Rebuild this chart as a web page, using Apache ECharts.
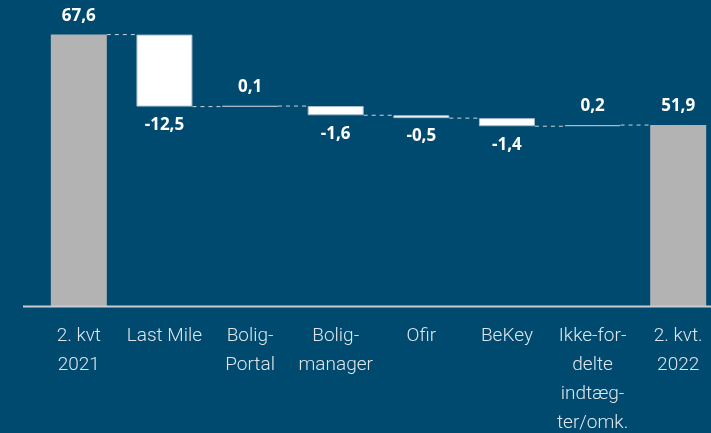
<!DOCTYPE html>
<html>
<head>
<meta charset="utf-8">
<script src="https://cdn.jsdelivr.net/npm/echarts@6/dist/echarts.min.js"></script>
<style>
  html, body { margin: 0; padding: 0; background: #014a6f; }
  #chart { width: 711px; height: 433px; }
</style>
</head>
<body>
<div id="chart"></div>
<script>
// kategorier og værdier (mio. kr.)
const categories = ['2. kvt\n2021', 'Last Mile', 'Bolig-\nPortal', 'Bolig-\nmanager', 'Ofir', 'BeKey', 'Ikke-for-\ndelte\nindtæg-\nter/omk.', '2. kvt.\n2022'];
const startValue = 67.6;
const changes = [-12.5, 0.1, -1.6, -0.5, -1.4, 0.2];
const endValue = 51.9;

// byg vandfaldet: usynlig base + synlig del
const baseData = [];
const barData = [];
const runningTotals = [];
let total = startValue;
baseData.push(0);
barData.push({ value: startValue, label: { position: 'top' }, itemStyle: { color: '#b3b3b3', borderWidth: 0 } });
runningTotals.push(total);
changes.forEach(function (d) {
  const next = Math.round((total + d) * 10) / 10;
  baseData.push(Math.min(total, next));
  barData.push({ value: Math.abs(d), raw: d, label: { position: d < 0 ? 'bottom' : 'top' } });
  total = next;
  runningTotals.push(total);
});
baseData.push(0);
barData.push({ value: endValue, label: { position: 'top' }, itemStyle: { color: '#b3b3b3', borderWidth: 0 } });

function fmt(v) {
  return v.toFixed(1).replace('.', ',');
}

const chart = echarts.init(document.getElementById('chart'));
const barWidth = 56;

const option = {
  backgroundColor: '#014a6f',
  animation: false,
  grid: { left: 36, width: 685, top: 0, bottom: 127, outerBoundsMode: 'none', containLabel: false },
  xAxis: {
    type: 'category',
    data: categories,
    axisLine: { show: false },
    axisTick: { show: false },
    axisLabel: {
      interval: 0,
      color: '#dfe6eb',
      fontFamily: 'Roboto',
      fontWeight: 300,
      fontSize: 19,
      lineHeight: 29,
      margin: 16
    }
  },
  yAxis: {
    type: 'value',
    min: 20.5,
    max: 73.6,
    show: false
  },
  graphic: [{
    type: 'line',
    shape: { x1: 23, y1: 306.5, x2: 711, y2: 306.5 },
    style: { stroke: '#c8ccd0', lineWidth: 2 },
    z: 10
  }],
  series: [
    {
      type: 'bar',
      stack: 'w',
      barWidth: barWidth,
      silent: true,
      itemStyle: { color: 'transparent' },
      data: baseData
    },
    {
      type: 'bar',
      stack: 'w',
      barWidth: barWidth,
      itemStyle: { color: '#ffffff', borderColor: '#a8bccb', borderWidth: 1 },
      label: {
        show: true,
        color: '#ffffff',
        fontFamily: 'Open Sans',
        fontWeight: 'bold',
        fontSize: 17,
        distance: 10,
        formatter: function (p) {
          const d = p.data.raw !== undefined ? p.data.raw : p.data.value;
          return fmt(d);
        }
      },
      data: barData,
      z: 3
    },
    {
      // stiplede forbindelseslinjer
      type: 'custom',
      silent: true,
      z: 2,
      renderItem: function (params, api) {
        const i = api.value(0);
        const y = api.value(1);
        const p1 = api.coord([i, y]);
        const p2 = api.coord([i + 1, y]);
        return {
          type: 'line',
          shape: { x1: p1[0] + barWidth / 2, y1: p1[1], x2: p2[0] - barWidth / 2, y2: p2[1] },
          style: { stroke: '#c9d3da', lineWidth: 1, lineDash: [4, 4] }
        };
      },
      data: runningTotals.map(function (v, i) { return [i, v]; })
    }
  ]
};

chart.setOption(option);
</script>
</body>
</html>
